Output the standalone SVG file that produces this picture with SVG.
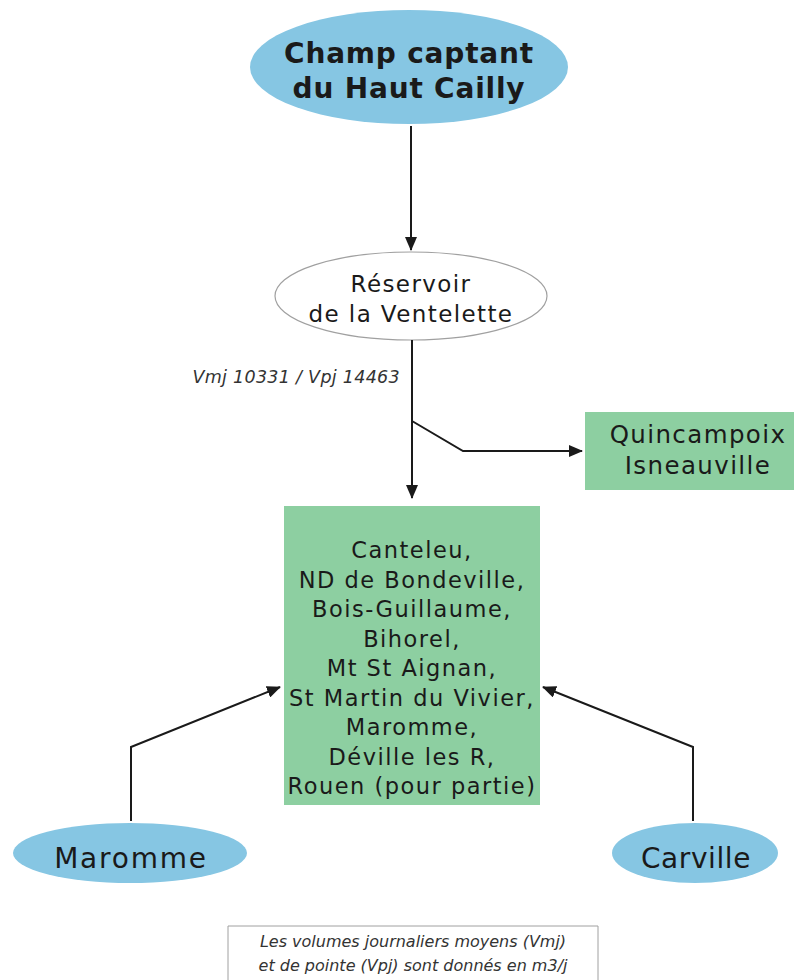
<svg xmlns="http://www.w3.org/2000/svg" width="794" height="980" viewBox="0 0 794 980">
  <style>
    .blue { fill: #86c6e3; }
    .green { fill: #8dcfa1; }
    .t { font-family: "DejaVu Sans", "Liberation Sans", sans-serif; fill: #1a1a1a; text-anchor: middle; }
    .head { font-weight: bold; font-size: 28px; letter-spacing: 0.8px; }
    .mid { font-size: 23px; letter-spacing: 1.4px; }
    .box { font-size: 22.5px; letter-spacing: 1.5px; }
    .big { font-size: 28px; letter-spacing: 1.8px; }
    .note { font-style: italic; font-size: 16px; fill: #333; }
    .edge { fill: none; stroke: #1a1a1a; stroke-width: 2; marker-end: url(#arrow); }
  </style>
  <defs>
    <marker id="arrow" viewBox="0 0 14 12" refX="13" refY="6" markerWidth="14" markerHeight="12" markerUnits="userSpaceOnUse" orient="auto">
      <path d="M0,0 L14,6 L0,12 Z" fill="#1a1a1a"/>
    </marker>
  </defs>

  <rect width="794" height="980" fill="#ffffff"/>

  <!-- Nodes -->
  <g id="champ-captant">
    <ellipse class="blue" cx="409" cy="67" rx="159" ry="57"/>
    <text class="t head" x="409" y="63">Champ captant</text>
    <text class="t head" x="409" y="98">du Haut Cailly</text>
  </g>

  <g id="reservoir">
    <ellipse cx="411" cy="296" rx="136" ry="44" fill="#ffffff" stroke="#a0a0a0" stroke-width="1.2"/>
    <text class="t mid" x="411" y="292">Réservoir</text>
    <text class="t mid" x="411" y="322">de la Ventelette</text>
  </g>

  <g id="quincampoix">
    <rect class="green" x="585" y="412" width="209" height="78"/>
    <text class="t mid" x="698" y="443" style="font-size:24.5px">Quincampoix</text>
    <text class="t mid" x="698" y="474" style="font-size:24.5px">Isneauville</text>
  </g>

  <g id="communes">
    <rect class="green" x="284" y="506" width="256" height="299"/>
    <text class="t box" x="412" y="558">Canteleu,</text>
    <text class="t box" x="412" y="587.5">ND de Bondeville,</text>
    <text class="t box" x="412" y="617">Bois-Guillaume,</text>
    <text class="t box" x="412" y="646.5">Bihorel,</text>
    <text class="t box" x="412" y="676">Mt St Aignan,</text>
    <text class="t box" x="412" y="705.5">St Martin du Vivier,</text>
    <text class="t box" x="412" y="735">Maromme,</text>
    <text class="t box" x="412" y="764.5">Déville les R,</text>
    <text class="t box" x="412" y="794">Rouen (pour partie)</text>
  </g>

  <g id="maromme">
    <ellipse class="blue" cx="130" cy="853" rx="117" ry="30"/>
    <text class="t big" x="131" y="868">Maromme</text>
  </g>

  <g id="carville">
    <ellipse class="blue" cx="695" cy="853" rx="83" ry="30"/>
    <text class="t big" x="696" y="868" style="letter-spacing:0.6px">Carville</text>
  </g>

  <!-- Connectors -->
  <g id="connectors">
    <path class="edge" d="M411,126 L411,250"/>
    <path class="edge" d="M412,340 L412,498"/>
    <path class="edge" d="M412,421 L463,451 L582,451"/>
    <path class="edge" d="M131,821 L131,747 L280,687"/>
    <path class="edge" d="M693,821 L693,747 L543,687"/>
    <text class="t note" x="400" y="383" style="text-anchor:end;font-size:17.5px;letter-spacing:0.3px">Vmj 10331 / Vpj 14463</text>
  </g>

  <!-- Legend -->
  <g id="legend">
    <path d="M228,984 L228,926 L598,926 L598,984" fill="none" stroke="#a0a0a0" stroke-width="1"/>
    <text class="t note" x="413" y="947">Les volumes journaliers moyens (Vmj)</text>
    <text class="t note" x="413" y="971">et de pointe (Vpj) sont donnés en m3/j</text>
  </g>
</svg>
